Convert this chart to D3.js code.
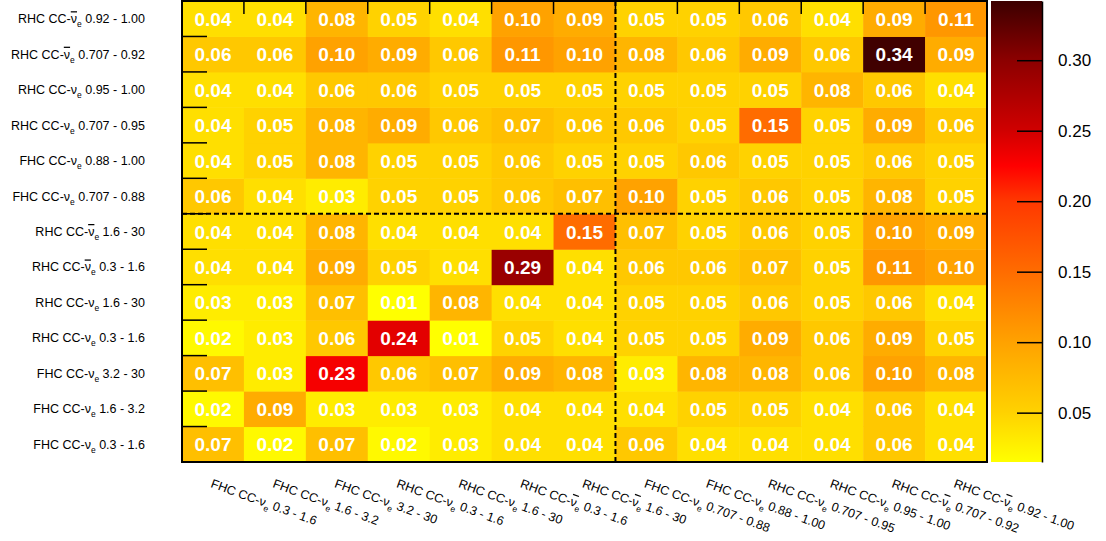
<!DOCTYPE html>
<html>
<head>
<meta charset="utf-8">
<script src="https://cdn.jsdelivr.net/npm/d3@7"></script>
<style>
  html, body { margin: 0; padding: 0; background: #ffffff; }
  svg { display: block; font-family: "Liberation Sans", Arial, Helvetica, sans-serif; }
</style>
</head>
<body>
<svg id="chart" width="1106" height="541"></svg>
<script>
// ---- Data ----
// Bin categories (same order for x left->right and y bottom->top): [horn, antineutrino?, range]
const binModes  = ["FHC", "FHC", "FHC", "RHC", "RHC", "RHC", "RHC", "FHC", "FHC", "RHC", "RHC", "RHC", "RHC"];
const binAntiNu = [false, false, false, false, false, true, true, false, false, false, false, true, true];
const binRanges = ["0.3 - 1.6", "1.6 - 3.2", "3.2 - 30", "0.3 - 1.6", "1.6 - 30", "0.3 - 1.6", "1.6 - 30",
                   "0.707 - 0.88", "0.88 - 1.00", "0.707 - 0.95", "0.95 - 1.00", "0.707 - 0.92", "0.92 - 1.00"];

// Cell values; row i belongs to y category i (bottom row first), columns follow x categories
const row0  = [0.07, 0.02, 0.07, 0.02, 0.03, 0.04, 0.04, 0.06, 0.04, 0.04, 0.04, 0.06, 0.04];
const row1  = [0.02, 0.09, 0.03, 0.03, 0.03, 0.04, 0.04, 0.04, 0.05, 0.05, 0.04, 0.06, 0.04];
const row2  = [0.07, 0.03, 0.23, 0.06, 0.07, 0.09, 0.08, 0.03, 0.08, 0.08, 0.06, 0.10, 0.08];
const row3  = [0.02, 0.03, 0.06, 0.24, 0.01, 0.05, 0.04, 0.05, 0.05, 0.09, 0.06, 0.09, 0.05];
const row4  = [0.03, 0.03, 0.07, 0.01, 0.08, 0.04, 0.04, 0.05, 0.05, 0.06, 0.05, 0.06, 0.04];
const row5  = [0.04, 0.04, 0.09, 0.05, 0.04, 0.29, 0.04, 0.06, 0.06, 0.07, 0.05, 0.11, 0.10];
const row6  = [0.04, 0.04, 0.08, 0.04, 0.04, 0.04, 0.15, 0.07, 0.05, 0.06, 0.05, 0.10, 0.09];
const row7  = [0.06, 0.04, 0.03, 0.05, 0.05, 0.06, 0.07, 0.10, 0.05, 0.06, 0.05, 0.08, 0.05];
const row8  = [0.04, 0.05, 0.08, 0.05, 0.05, 0.06, 0.05, 0.05, 0.06, 0.05, 0.05, 0.06, 0.05];
const row9  = [0.04, 0.05, 0.08, 0.09, 0.06, 0.07, 0.06, 0.06, 0.05, 0.15, 0.05, 0.09, 0.06];
const row10 = [0.04, 0.04, 0.06, 0.06, 0.05, 0.05, 0.05, 0.05, 0.05, 0.05, 0.08, 0.06, 0.04];
const row11 = [0.06, 0.06, 0.10, 0.09, 0.06, 0.11, 0.10, 0.08, 0.06, 0.09, 0.06, 0.34, 0.09];
const row12 = [0.04, 0.04, 0.08, 0.05, 0.04, 0.10, 0.09, 0.05, 0.05, 0.06, 0.04, 0.09, 0.11];
const matrix = [row0, row1, row2, row3, row4, row5, row6, row7, row8, row9, row10, row11, row12];

// Colour axis
const zMin = 0.015, zMax = 0.342;
const zTicks = [0.05, 0.10, 0.15, 0.20, 0.25, 0.30];
const paletteValues = [0.015, 0.05, 0.10, 0.15, 0.20, 0.225, 0.25, 0.30, 0.342];
const paletteColors = ["#ffff00", "#ffd200", "#ffa200", "#ff6c00", "#ff3800", "#ff0000", "#d00000", "#8c0000", "#3c0000"];

// ---- Layout ----
const svg = d3.select("#chart");
const frame = { left: 182, right: 987, top: 1, bottom: 462 };
const bar = { left: 991, right: 1042 };

const cats = d3.range(binModes.length);
const x = d3.scaleBand().domain(cats).range([frame.left, frame.right]).paddingInner(0).paddingOuter(0);
const y = d3.scaleBand().domain(cats).range([frame.bottom, frame.top]).paddingInner(0).paddingOuter(0);
const color = d3.scaleLinear().domain(paletteValues).range(paletteColors).clamp(true);
const z = d3.scaleLinear().domain([zMin, zMax]).range([frame.bottom, frame.top]);

// ---- Cells ----
const cells = [];
matrix.forEach((row, yi) => row.forEach((v, xi) => cells.push({ xi, yi, v })));

svg.append("g").selectAll("rect").data(cells).join("rect")
  .attr("x", d => x(d.xi))
  .attr("y", d => y(d.yi))
  .attr("width", x.bandwidth() + 0.5)
  .attr("height", y.bandwidth() + 0.5)
  .attr("fill", d => color(d.v));

svg.append("g").selectAll("text").data(cells).join("text")
  .attr("x", d => x(d.xi) + x.bandwidth() / 2)
  .attr("y", d => y(d.yi) + y.bandwidth() / 2 + 7)
  .attr("text-anchor", "middle")
  .attr("font-size", 19)
  .attr("font-weight", "bold")
  .attr("fill", "#ffffff")
  .text(d => d.v.toFixed(2));

// ---- Dashed separators ----
const sepX = x(7), sepY = y(6);
svg.append("line").attr("x1", sepX).attr("x2", sepX).attr("y1", frame.top).attr("y2", frame.bottom)
  .attr("stroke", "#000").attr("stroke-width", 2).attr("stroke-dasharray", "5,3");
svg.append("line").attr("x1", frame.left).attr("x2", frame.right).attr("y1", sepY).attr("y2", sepY)
  .attr("stroke", "#000").attr("stroke-width", 2).attr("stroke-dasharray", "5,3");

// ---- Frame & ticks ----
svg.append("rect").attr("x", frame.left).attr("y", frame.top)
  .attr("width", frame.right - frame.left).attr("height", frame.bottom - frame.top)
  .attr("fill", "none").attr("stroke", "#000").attr("stroke-width", 2);

const ticksG = svg.append("g").attr("stroke", "#000").attr("stroke-width", 1.5);
cats.slice(1).forEach(i => {
  ticksG.append("line").attr("x1", x(i)).attr("x2", x(i)).attr("y1", frame.top).attr("y2", frame.top + 13);
  ticksG.append("line").attr("x1", frame.left).attr("x2", frame.left + 25).attr("y1", y(i) + y.bandwidth()).attr("y2", y(i) + y.bandwidth());
});

// ---- Labels ----
function writeLabel(sel, i) {
  sel.append("tspan").text(binModes[i] + " CC-");
  const nu = sel.append("tspan").text("\u03BD");
  if (binAntiNu[i]) nu.style("text-decoration", "overline").style("text-decoration-thickness", "2px");
  sel.append("tspan").attr("font-size", 8.5).attr("dy", 4).text("e");
  sel.append("tspan").attr("dy", -4).text(" " + binRanges[i]);
}

svg.append("g").selectAll("text").data(cats).join("text")
  .attr("x", 145)
  .attr("y", i => y(i) + y.bandwidth() / 2 + 4.5)
  .attr("text-anchor", "end")
  .attr("font-size", 12.5)
  .attr("fill", "#000")
  .each(function (i) { writeLabel(d3.select(this), i); });

svg.append("g").selectAll("text").data(cats).join("text")
  .attr("transform", i => `translate(${x(i) + x.bandwidth() / 2 - 3},487) rotate(20)`)
  .attr("font-size", 12.5)
  .attr("fill", "#000")
  .each(function (i) { writeLabel(d3.select(this), i); });

// ---- Colour bar ----
const defs = svg.append("defs");
const grad = defs.append("linearGradient").attr("id", "zgrad")
  .attr("x1", 0).attr("y1", 1).attr("x2", 0).attr("y2", 0);
paletteValues.forEach((v, k) => {
  grad.append("stop").attr("offset", (v - zMin) / (zMax - zMin)).attr("stop-color", paletteColors[k]);
});
svg.append("rect").attr("x", bar.left).attr("y", frame.top)
  .attr("width", bar.right - bar.left).attr("height", frame.bottom - frame.top)
  .attr("fill", "url(#zgrad)");

const zAxis = d3.axisRight(z).tickValues(zTicks).tickSize(0).tickFormat(d3.format(".2f"));
const zg = svg.append("g").attr("transform", `translate(${bar.right},0)`).call(zAxis);
zg.select(".domain").attr("stroke", "#000").attr("stroke-width", 1.5);
zg.selectAll(".tick text").attr("x", 16).attr("font-size", 17).attr("fill", "#000")
  .attr("font-family", "Liberation Sans, Arial, sans-serif");
zg.selectAll(".tick").append("line").attr("x1", -25).attr("x2", 0).attr("stroke", "#000").attr("stroke-width", 1.5);
</script>
</body>
</html>
